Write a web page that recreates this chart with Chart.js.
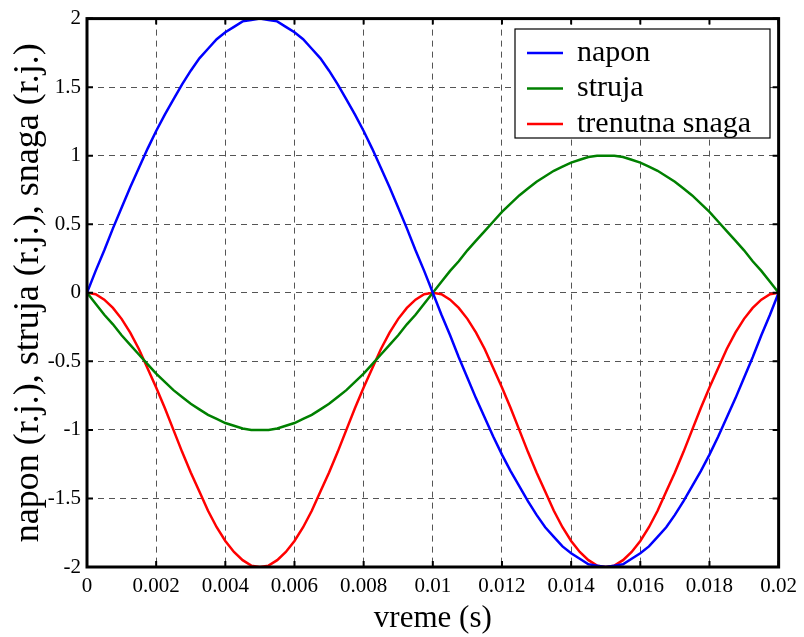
<!DOCTYPE html>
<html>
<head>
<meta charset="utf-8">
<script src="https://cdn.jsdelivr.net/npm/chart.js@4.4.1/dist/chart.umd.min.js"></script>
<style>
  body { margin: 0; background: #fff; }
  canvas { display: block; }
</style>
</head>
<body>
<canvas id="myChart" width="804" height="637"></canvas>
<script>
// values (one period, 50 Hz)
const vreme = [0, 0.00025, 0.0005, 0.00075, 0.001, 0.00125, 0.0015, 0.00175, 0.002, 0.00225,
  0.0025, 0.00275, 0.003, 0.00325, 0.0035, 0.00375, 0.004, 0.00425, 0.0045, 0.00475,
  0.005, 0.00525, 0.0055, 0.00575, 0.006, 0.00625, 0.0065, 0.00675, 0.007, 0.00725,
  0.0075, 0.00775, 0.008, 0.00825, 0.0085, 0.00875, 0.009, 0.00925, 0.0095, 0.00975,
  0.01, 0.01025, 0.0105, 0.01075, 0.011, 0.01125, 0.0115, 0.01175, 0.012, 0.01225,
  0.0125, 0.01275, 0.013, 0.01325, 0.0135, 0.01375, 0.014, 0.01425, 0.0145, 0.01475,
  0.015, 0.01525, 0.0155, 0.01575, 0.016, 0.01625, 0.0165, 0.01675, 0.017, 0.01725,
  0.0175, 0.01775, 0.018, 0.01825, 0.0185, 0.01875, 0.019, 0.01925, 0.0195, 0.01975, 0.02];
const napon = [0, 0.16, 0.31, 0.47, 0.62, 0.77, 0.91, 1.05, 1.18, 1.30,
  1.41, 1.52, 1.62, 1.71, 1.78, 1.85, 1.90, 1.94, 1.98, 1.99,
  2.00, 1.99, 1.98, 1.94, 1.90, 1.85, 1.78, 1.71, 1.62, 1.52,
  1.41, 1.30, 1.18, 1.05, 0.91, 0.77, 0.62, 0.47, 0.31, 0.16,
  0, -0.16, -0.31, -0.47, -0.62, -0.77, -0.91, -1.05, -1.18, -1.30,
  -1.41, -1.52, -1.62, -1.71, -1.78, -1.85, -1.90, -1.94, -1.98, -1.99,
  -2.00, -1.99, -1.98, -1.94, -1.90, -1.85, -1.78, -1.71, -1.62, -1.52,
  -1.41, -1.30, -1.18, -1.05, -0.91, -0.77, -0.62, -0.47, -0.31, -0.16, 0];
const struja = [0, -0.08, -0.16, -0.23, -0.31, -0.38, -0.45, -0.52, -0.59, -0.65,
  -0.71, -0.76, -0.81, -0.85, -0.89, -0.92, -0.95, -0.97, -0.99, -1.00,
  -1.00, -1.00, -0.99, -0.97, -0.95, -0.92, -0.89, -0.85, -0.81, -0.76,
  -0.71, -0.65, -0.59, -0.52, -0.45, -0.38, -0.31, -0.23, -0.16, -0.08,
  0, 0.08, 0.16, 0.23, 0.31, 0.38, 0.45, 0.52, 0.59, 0.65,
  0.71, 0.76, 0.81, 0.85, 0.89, 0.92, 0.95, 0.97, 0.99, 1.00,
  1.00, 1.00, 0.99, 0.97, 0.95, 0.92, 0.89, 0.85, 0.81, 0.76,
  0.71, 0.65, 0.59, 0.52, 0.45, 0.38, 0.31, 0.23, 0.16, 0.08, 0];
const snaga = [0, -0.01, -0.05, -0.11, -0.19, -0.29, -0.41, -0.55, -0.69, -0.84,
  -1.00, -1.16, -1.31, -1.45, -1.59, -1.71, -1.81, -1.89, -1.95, -1.99,
  -2.00, -1.99, -1.95, -1.89, -1.81, -1.71, -1.59, -1.45, -1.31, -1.16,
  -1.00, -0.84, -0.69, -0.55, -0.41, -0.29, -0.19, -0.11, -0.05, -0.01,
  0, -0.01, -0.05, -0.11, -0.19, -0.29, -0.41, -0.55, -0.69, -0.84,
  -1.00, -1.16, -1.31, -1.45, -1.59, -1.71, -1.81, -1.89, -1.95, -1.99,
  -2.00, -1.99, -1.95, -1.89, -1.81, -1.71, -1.59, -1.45, -1.31, -1.16,
  -1.00, -0.84, -0.69, -0.55, -0.41, -0.29, -0.19, -0.11, -0.05, -0.01, 0];
const labels = ['napon', 'struja', 'trenutna snaga'];
const colors = ['#0000ff', '#008000', '#ff0000'];

const FONT = 'Liberation Serif, Times New Roman, serif';

const toPoints = arr => arr.map((v, i) => ({ x: vreme[i], y: v }));

// matlab style box + inward ticks + legend
const matlabFrame = {
  id: 'matlabFrame',
  afterDraw(chart) {
    const ctx = chart.ctx;
    const { left, right, top, bottom } = chart.chartArea;
    ctx.save();
    ctx.strokeStyle = '#000';
    ctx.lineWidth = 2;
    ctx.beginPath();
    chart.scales.x.ticks.forEach(t => {
      const px = chart.scales.x.getPixelForValue(t.value);
      ctx.moveTo(px, bottom); ctx.lineTo(px, bottom - 6);
      ctx.moveTo(px, top); ctx.lineTo(px, top + 6);
    });
    chart.scales.y.ticks.forEach(t => {
      const py = chart.scales.y.getPixelForValue(t.value);
      ctx.moveTo(left, py); ctx.lineTo(left + 6, py);
      ctx.moveTo(right, py); ctx.lineTo(right - 6, py);
    });
    ctx.stroke();
    ctx.lineWidth = 3;
    ctx.strokeRect(left, top, right - left, bottom - top);

    // legend
    const lx = 515, ly = 29, lw = 255, lh = 109;
    ctx.fillStyle = '#fff';
    ctx.fillRect(lx, ly, lw, lh);
    ctx.lineWidth = 1.2;
    ctx.strokeRect(lx, ly, lw, lh);
    ctx.font = '30px ' + FONT;
    ctx.textBaseline = 'middle';
    chart.data.datasets.forEach((ds, i) => {
      const y = 53 + i * 35.5;
      ctx.strokeStyle = ds.borderColor;
      ctx.lineWidth = 2.5;
      ctx.beginPath();
      ctx.moveTo(527, y); ctx.lineTo(563, y);
      ctx.stroke();
      ctx.fillStyle = '#000';
      ctx.fillText(ds.label, 577, y);
    });
    ctx.restore();
  }
};

const ctx = document.getElementById('myChart').getContext('2d');
const myChart = new Chart(ctx, {
  type: 'line',
  data: {
    datasets: [napon, struja, snaga].map((d, i) => ({
      label: labels[i],
      data: toPoints(d),
      borderColor: colors[i],
      borderWidth: 2.5,
      pointRadius: 0,
      tension: 0,
      fill: false,
    })),
  },
  options: {
    responsive: false,
    animation: false,
    layout: { padding: { top: 18, right: 23, left: 0, bottom: 0 } },
    plugins: { legend: { display: false }, tooltip: { enabled: false } },
    scales: {
      x: {
        type: 'linear',
        min: 0,
        max: 0.02,
        afterFit: s => { s.height = 70; },
        ticks: {
          stepSize: 0.002,
          padding: 7,
          color: '#000',
          font: { family: FONT, size: 21 },
          maxRotation: 0,
          callback: v => String(+v.toFixed(4)),
        },
        grid: { color: '#555', lineWidth: 1, drawTicks: false },
        border: { display: false, dash: [6, 5] },
        title: {
          display: true,
          text: 'vreme (s)',
          color: '#000',
          font: { family: FONT, size: 31 },
          padding: { top: 0, bottom: 0 },
        },
      },
      y: {
        min: -2,
        max: 2,
        afterFit: s => { s.width = 87; },
        ticks: {
          stepSize: 0.5,
          padding: 6,
          color: '#000',
          font: { family: FONT, size: 21 },
          callback: v => String(+v.toFixed(2)),
        },
        grid: { color: '#555', lineWidth: 1, drawTicks: false },
        border: { display: false, dash: [6, 5] },
        title: {
          display: true,
          text: 'napon (r.j.), struja (r.j.), snaga (r.j.)',
          color: '#000',
          font: { family: FONT, size: 36 },
          padding: { top: 7, bottom: 0 },
        },
      },
    },
  },
  plugins: [matlabFrame],
});
</script>
</body>
</html>
